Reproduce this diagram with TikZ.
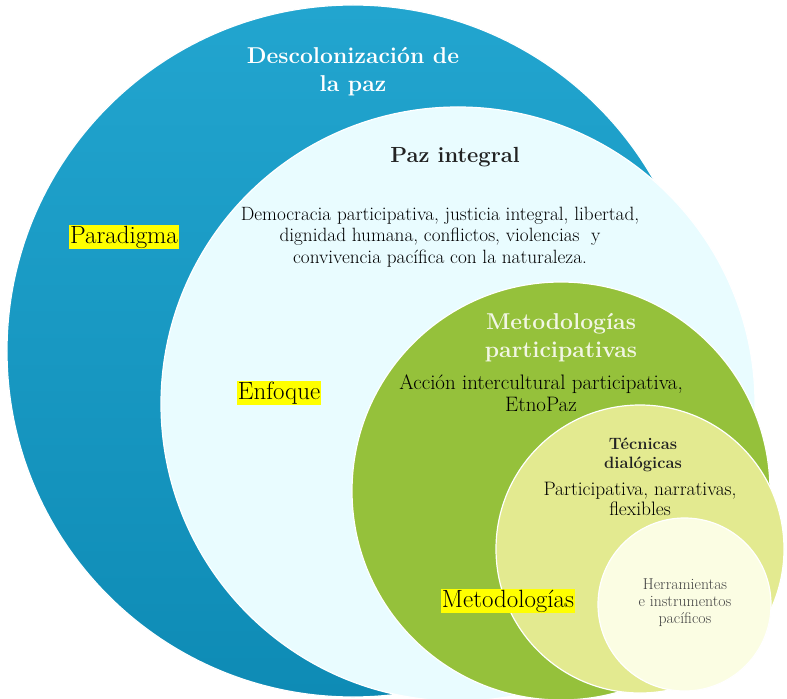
\documentclass[tikz,border=0pt]{standalone}
\definecolor{bluetop}{HTML}{22A5CF}
\definecolor{bluebot}{HTML}{0E8BB5}
\definecolor{pale}{HTML}{E9FCFF}
\definecolor{leaf}{HTML}{95C13B}
\definecolor{lime}{HTML}{E3EA90}
\definecolor{cream}{HTML}{FBFDE3}
\definecolor{softwhite}{HTML}{F2F6E4}
\definecolor{darktext}{HTML}{222222}
\definecolor{graytext}{HTML}{444444}
\definecolor{hlyellow}{HTML}{FFFF00}
\tikzset{
  ring/.style={circle, inner sep=0pt, outer sep=0pt, draw=white, line width=1.2bp},
  lbl/.style={align=center, inner sep=0pt, text=black},
  hl/.style={fill=hlyellow, inner sep=1bp, text=black, font=\fontsize{25}{28}\selectfont},
  bigtitle/.style={lbl, font=\fontsize{23}{28}\selectfont\bfseries},
  body/.style={lbl, font=\fontsize{19.3}{21.5}\selectfont},
}
\begin{document}
\begin{tikzpicture}[x=1bp,y=-1bp]
\useasboundingbox (0,0) rectangle (787,699);
\node[ring, minimum size=692bp, top color=bluetop, bottom color=bluebot] (paradigma) at (353,351) {};
\node[ring, minimum size=594bp, fill=pale] (enfoque) at (458,404) {};
\node[ring, minimum size=418bp, fill=leaf] (metod) at (561,491) {};
\node[ring, minimum size=288bp, fill=lime] (tecnicas) at (640,549) {};
\node[ring, minimum size=173bp, fill=cream] (herr) at (684.5,604.5) {};

\node[bigtitle, text=white] (t1) at (353,72) {Descolonizaci\'on de\\la paz};
\node[bigtitle, font=\fontsize{22}{28}\selectfont\bfseries, text=darktext] (t2) at (455,157) {Paz integral};
\node[body] (t2b) at (440,237) {Democracia participativa, justicia integral, libertad,\\dignidad humana, conflictos, violencias\ \ y\\convivencia pac\'{\i}fica con la naturaleza.};
\node[hl] (h1) at (124,237) {Paradigma};
\node[hl] (h2) at (279,393) {Enfoque};
\node[bigtitle, text=softwhite] (t3) at (561,338) {Metodolog\'{\i}as\\participativas};
\node[body, font=\fontsize{21}{22}\selectfont] (t3b) at (541,393) {Acci\'on intercultural participativa,\\EtnoPaz};
\node[lbl, text=darktext, font=\fontsize{16.5}{19}\selectfont\bfseries] (t4) at (643,455) {T\'ecnicas\\dial\'ogicas};
\node[body, font=\fontsize{19.5}{19.5}\selectfont] (t4b) at (640,499) {Participativa, narrativas,\\flexibles};
\node[hl] (h3) at (508,601) {Metodolog\'{\i}as};
\node[lbl, text=graytext, font=\fontsize{15.8}{17}\selectfont] (t5) at (685,603) {Herramientas\\e instrumentos\\pac\'{\i}ficos};
\end{tikzpicture}
\end{document}
